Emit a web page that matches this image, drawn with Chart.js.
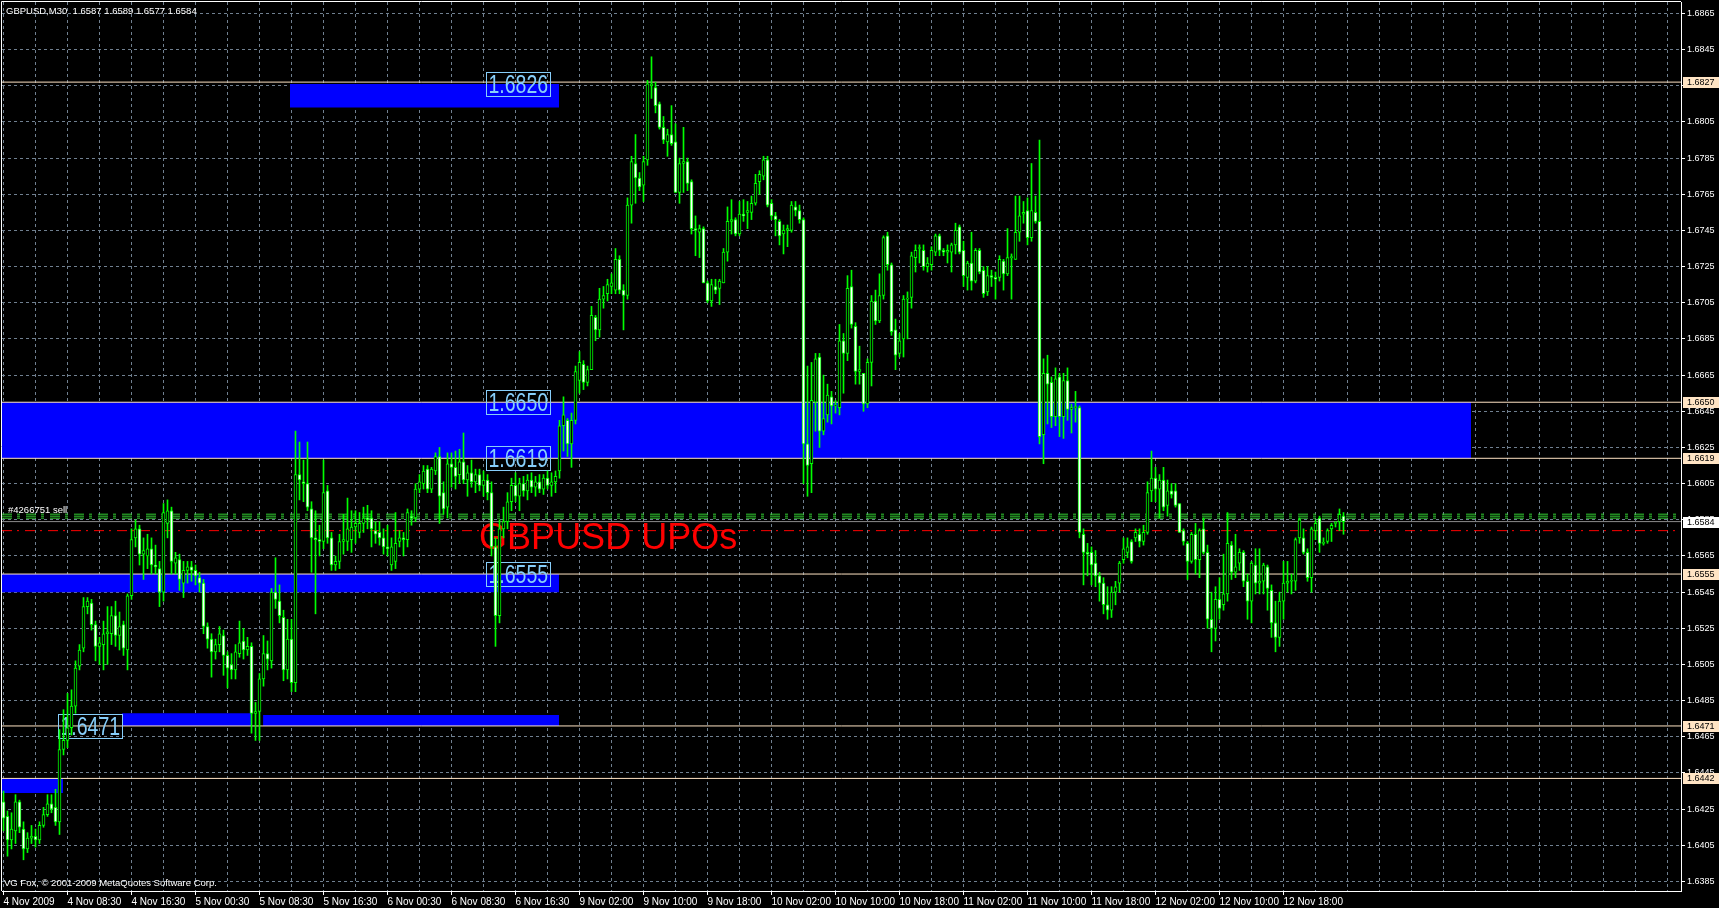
<!DOCTYPE html>
<html>
<head>
<meta charset="utf-8">
<script src="https://cdn.jsdelivr.net/npm/chart.js@4/dist/chart.umd.min.js"></script>
<style>
  html, body { margin: 0; padding: 0; background: #000; overflow: hidden; }
  canvas { display: block; background: #000; }
</style>
</head>
<body>
<canvas id="chart" width="1719" height="908"></canvas>
<script>
// GBPUSD M30, 4 Nov 2009 .. 13 Nov 2009, one entry per bar
const open = [
  1.6429,1.6421,1.6408,1.6413,1.6429,1.6414,1.6403,1.6409,1.6410,1.6408,
  1.6416,1.6422,1.6428,1.6426,1.6418,1.6458,1.6463,1.6470,1.6482,1.6504,
  1.6514,1.6537,1.6539,1.6527,1.6515,1.6516,1.6522,1.6522,1.6532,1.6521,
  1.6527,1.6513,1.6543,1.6575,1.6580,1.6566,1.6565,1.6569,1.6560,1.6558,
  1.6545,1.6583,1.6590,1.6561,1.6563,1.6550,1.6557,1.6559,1.6557,1.6553,
  1.6550,1.6526,1.6519,1.6512,1.6516,1.6521,1.6510,1.6505,1.6502,1.6511,
  1.6518,1.6513,1.6515,1.6478,1.6479,1.6497,1.6511,1.6507,1.6545,1.6540,
  1.6531,1.6502,1.6519,1.6495,1.6610,1.6606,1.6605,1.6591,1.6575,1.6574,
  1.6573,1.6601,1.6575,1.6560,1.6562,1.6573,1.6573,1.6574,1.6581,1.6578,
  1.6583,1.6586,1.6586,1.6579,1.6578,1.6575,1.6570,1.6560,1.6562,1.6573,
  1.6575,1.6574,1.6587,1.6586,1.6602,1.6605,1.6613,1.6602,1.6612,1.6620,
  1.6600,1.6592,1.6616,1.6614,1.6610,1.6617,1.6607,1.6611,1.6606,1.6610,
  1.6604,1.6607,1.6600,1.6570,1.6532,1.6580,1.6584,1.6595,1.6604,1.6598,
  1.6605,1.6601,1.6607,1.6603,1.6606,1.6602,1.6608,1.6604,1.6606,1.6612,
  1.6637,1.6640,1.6627,1.6640,1.6662,1.6671,1.6661,1.6668,1.6697,1.6690,
  1.6707,1.6710,1.6714,1.6712,1.6729,1.6712,1.6709,1.6759,1.6782,1.6774,
  1.6770,1.6784,1.6825,1.6824,1.6815,1.6802,1.6794,1.6798,1.6794,1.6766,
  1.6782,1.6783,1.6772,1.6746,1.6744,1.6746,1.6716,1.6706,1.6714,1.6713,
  1.6716,1.6733,1.6750,1.6751,1.6743,1.6754,1.6755,1.6755,1.6760,1.6772,
  1.6775,1.6784,1.6760,1.6753,1.6750,1.6743,1.6745,1.6745,1.6758,1.6756,
  1.6751,1.6627,1.6616,1.6650,1.6675,1.6634,1.6643,1.6653,1.6648,1.6647,
  1.6684,1.6677,1.6714,1.6692,1.6667,1.6666,1.6649,1.6672,1.6706,1.6695,
  1.6709,1.6742,1.6726,1.6690,1.6677,1.6685,1.6707,1.6708,1.6730,1.6735,
  1.6734,1.6725,1.6726,1.6733,1.6742,1.6734,1.6733,1.6733,1.6737,1.6747,
  1.6734,1.6719,1.6727,1.6717,1.6734,1.6723,1.6711,1.6720,1.6719,1.6719,
  1.6728,1.6721,1.6730,1.6729,1.6744,1.6754,1.6756,1.6741,1.6755,1.6750,
  1.6632,1.6666,1.6661,1.6642,1.6664,1.6642,1.6662,1.6646,1.6647,1.6647,
  1.6577,1.6567,1.6567,1.6561,1.6554,1.6550,1.6538,1.6535,1.6545,1.6550,
  1.6563,1.6567,1.6573,1.6575,1.6577,1.6573,1.6578,1.6601,1.6608,1.6602,
  1.6607,1.6593,1.6601,1.6601,1.6594,1.6579,1.6572,1.6562,1.6577,1.6563,
  1.6580,1.6567,1.6530,1.6525,1.6541,1.6538,1.6544,1.6571,1.6556,1.6561,
  1.6567,1.6551,1.6540,1.6560,1.6550,1.6551,1.6559,1.6546,1.6528,1.6520,
  1.6540,1.6550,1.6551,1.6551,1.6575,1.6575,1.6567,1.6553,1.6579,1.6586,
  1.6572,1.6573,1.6580,1.6583,1.6584,1.6587
];
const high = [
  1.6435,1.6424,1.6423,1.6433,1.6430,1.6418,1.6412,1.6416,1.6414,1.6418,
  1.6426,1.6433,1.6433,1.6436,1.6469,1.6480,1.6489,1.6491,1.6507,1.6516,
  1.6542,1.6542,1.6541,1.6529,1.6520,1.6529,1.6537,1.6537,1.6540,1.6534,
  1.6529,1.6544,1.6580,1.6585,1.6582,1.6575,1.6577,1.6575,1.6571,1.6562,
  1.6594,1.6596,1.6592,1.6567,1.6566,1.6562,1.6562,1.6562,1.6560,1.6556,
  1.6552,1.6528,1.6522,1.6519,1.6526,1.6524,1.6512,1.6511,1.6516,1.6529,
  1.6525,1.6520,1.6517,1.6484,1.6500,1.6521,1.6518,1.6547,1.6564,1.6549,
  1.6535,1.6530,1.6530,1.6634,1.6628,1.6618,1.6628,1.6595,1.6590,1.6582,
  1.6618,1.6604,1.6578,1.6565,1.6577,1.6588,1.6597,1.6590,1.6590,1.6589,
  1.6592,1.6593,1.6590,1.6584,1.6584,1.6580,1.6582,1.6575,1.6589,1.6579,
  1.6578,1.6591,1.6590,1.6605,1.6610,1.6615,1.6615,1.6614,1.6622,1.6625,
  1.6606,1.6622,1.6622,1.6623,1.6624,1.6633,1.6615,1.6618,1.6613,1.6613,
  1.6612,1.6610,1.6606,1.6575,1.6585,1.6592,1.6600,1.6608,1.6611,1.6608,
  1.6609,1.6610,1.6611,1.6609,1.6610,1.6610,1.6612,1.6611,1.6612,1.6640,
  1.6653,1.6641,1.6644,1.6670,1.6678,1.6673,1.6670,1.6703,1.6698,1.6713,
  1.6714,1.6718,1.6721,1.6735,1.6731,1.6715,1.6763,1.6786,1.6798,1.6777,
  1.6786,1.6828,1.6841,1.6827,1.6816,1.6808,1.6801,1.6814,1.6804,1.6785,
  1.6802,1.6785,1.6773,1.6753,1.6748,1.6747,1.6717,1.6718,1.6718,1.6718,
  1.6735,1.6758,1.6762,1.6752,1.6761,1.6762,1.6761,1.6764,1.6776,1.6778,
  1.6786,1.6786,1.6762,1.6755,1.6751,1.6748,1.6748,1.6761,1.6761,1.6759,
  1.6752,1.6670,1.6672,1.6677,1.6677,1.6665,1.6660,1.6656,1.6651,1.6693,
  1.6688,1.6720,1.6723,1.6694,1.6681,1.6666,1.6674,1.6709,1.6712,1.6721,
  1.6742,1.6744,1.6727,1.6696,1.6688,1.6709,1.6711,1.6733,1.6737,1.6737,
  1.6737,1.6730,1.6736,1.6743,1.6743,1.6735,1.6737,1.6738,1.6749,1.6748,
  1.6739,1.6728,1.6744,1.6735,1.6735,1.6725,1.6725,1.6723,1.6722,1.6731,
  1.6729,1.6746,1.6732,1.6764,1.6764,1.6761,1.6763,1.6782,1.6764,1.6795,
  1.6674,1.6676,1.6664,1.6669,1.6666,1.6666,1.6669,1.6649,1.6656,1.6648,
  1.6580,1.6572,1.6570,1.6568,1.6556,1.6553,1.6548,1.6548,1.6551,1.6562,
  1.6575,1.6575,1.6574,1.6580,1.6580,1.6582,1.6606,1.6623,1.6614,1.6610,
  1.6614,1.6607,1.6605,1.6605,1.6594,1.6580,1.6573,1.6578,1.6583,1.6580,
  1.6586,1.6571,1.6545,1.6548,1.6553,1.6566,1.6589,1.6573,1.6577,1.6569,
  1.6568,1.6555,1.6562,1.6569,1.6569,1.6561,1.6560,1.6549,1.6540,1.6545,
  1.6562,1.6562,1.6555,1.6575,1.6586,1.6580,1.6569,1.6581,1.6585,1.6587,
  1.6575,1.6580,1.6583,1.6584,1.6591,1.6589
];
const low = [
  1.6413,1.6399,1.6403,1.6406,1.6412,1.6397,1.6401,1.6406,1.6404,1.6406,
  1.6415,1.6421,1.6423,1.6416,1.6411,1.6455,1.6459,1.6466,1.6478,1.6502,
  1.6512,1.6533,1.6524,1.6507,1.6505,1.6502,1.6505,1.6516,1.6515,1.6513,
  1.6510,1.6502,1.6541,1.6570,1.6560,1.6552,1.6558,1.6555,1.6555,1.6537,
  1.6540,1.6575,1.6555,1.6555,1.6546,1.6542,1.6550,1.6551,1.6549,1.6545,
  1.6522,1.6514,1.6498,1.6508,1.6512,1.6499,1.6492,1.6497,1.6497,1.6509,
  1.6508,1.6510,1.6467,1.6463,1.6463,1.6493,1.6502,1.6503,1.6536,1.6528,
  1.6496,1.6497,1.6490,1.6490,1.6596,1.6595,1.6590,1.6556,1.6533,1.6565,
  1.6569,1.6572,1.6557,1.6557,1.6558,1.6566,1.6568,1.6567,1.6572,1.6575,
  1.6578,1.6580,1.6570,1.6572,1.6571,1.6566,1.6565,1.6557,1.6558,1.6570,
  1.6565,1.6570,1.6582,1.6584,1.6600,1.6602,1.6600,1.6600,1.6610,1.6583,
  1.6588,1.6586,1.6603,1.6602,1.6605,1.6605,1.6598,1.6603,1.6600,1.6601,
  1.6598,1.6596,1.6565,1.6515,1.6528,1.6575,1.6580,1.6590,1.6595,1.6590,
  1.6598,1.6596,1.6600,1.6598,1.6600,1.6599,1.6602,1.6598,1.6600,1.6608,
  1.6623,1.6620,1.6614,1.6638,1.6655,1.6657,1.6659,1.6668,1.6684,1.6686,
  1.6702,1.6706,1.6710,1.6710,1.6710,1.6690,1.6707,1.6749,1.6760,1.6767,
  1.6761,1.6781,1.6818,1.6810,1.6801,1.6793,1.6786,1.6792,1.6766,1.6760,
  1.6766,1.6767,1.6743,1.6731,1.6730,1.6716,1.6705,1.6703,1.6710,1.6704,
  1.6716,1.6728,1.6743,1.6742,1.6742,1.6750,1.6746,1.6751,1.6759,1.6765,
  1.6773,1.6758,1.6751,1.6742,1.6737,1.6732,1.6736,1.6744,1.6753,1.6749,
  1.6605,1.6598,1.6600,1.6634,1.6625,1.6632,1.6639,1.6638,1.6644,1.6643,
  1.6655,1.6673,1.6691,1.6660,1.6660,1.6645,1.6647,1.6659,1.6693,1.6694,
  1.6707,1.6723,1.6687,1.6668,1.6675,1.6675,1.6685,1.6702,1.6722,1.6727,
  1.6723,1.6722,1.6723,1.6731,1.6731,1.6731,1.6727,1.6722,1.6732,1.6732,
  1.6714,1.6712,1.6712,1.6716,1.6721,1.6708,1.6709,1.6714,1.6707,1.6717,
  1.6712,1.6720,1.6707,1.6729,1.6739,1.6749,1.6737,1.6739,1.6749,1.6627,
  1.6616,1.6638,1.6636,1.6637,1.6631,1.6630,1.6640,1.6633,1.6639,1.6575,
  1.6549,1.6554,1.6549,1.6548,1.6540,1.6533,1.6530,1.6531,1.6538,1.6545,
  1.6561,1.6564,1.6561,1.6573,1.6570,1.6571,1.6577,1.6595,1.6595,1.6586,
  1.6590,1.6587,1.6597,1.6592,1.6578,1.6571,1.6552,1.6561,1.6555,1.6553,
  1.6566,1.6525,1.6512,1.6518,1.6530,1.6535,1.6540,1.6552,1.6553,1.6557,
  1.6548,1.6530,1.6528,1.6544,1.6544,1.6544,1.6535,1.6520,1.6512,1.6515,
  1.6530,1.6545,1.6544,1.6546,1.6572,1.6566,1.6551,1.6545,1.6574,1.6567,
  1.6571,1.6572,1.6573,1.6581,1.6579,1.6577
];
const close = [
  1.6420,1.6408,1.6414,1.6429,1.6415,1.6403,1.6409,1.6410,1.6408,1.6416,
  1.6422,1.6428,1.6425,1.6418,1.6458,1.6463,1.6470,1.6482,1.6503,1.6513,
  1.6537,1.6540,1.6527,1.6515,1.6517,1.6522,1.6523,1.6532,1.6521,1.6526,
  1.6514,1.6543,1.6574,1.6580,1.6566,1.6568,1.6569,1.6560,1.6559,1.6545,
  1.6589,1.6590,1.6562,1.6564,1.6552,1.6557,1.6559,1.6557,1.6554,1.6550,
  1.6526,1.6519,1.6512,1.6516,1.6522,1.6510,1.6503,1.6502,1.6512,1.6517,
  1.6513,1.6515,1.6478,1.6479,1.6497,1.6511,1.6508,1.6545,1.6541,1.6532,
  1.6502,1.6519,1.6495,1.6610,1.6607,1.6605,1.6592,1.6575,1.6574,1.6573,
  1.6600,1.6575,1.6560,1.6562,1.6573,1.6574,1.6580,1.6581,1.6583,1.6583,
  1.6586,1.6585,1.6580,1.6577,1.6575,1.6570,1.6569,1.6570,1.6572,1.6575,
  1.6574,1.6589,1.6586,1.6602,1.6606,1.6612,1.6602,1.6613,1.6620,1.6598,
  1.6591,1.6616,1.6614,1.6609,1.6617,1.6607,1.6611,1.6606,1.6610,1.6604,
  1.6607,1.6600,1.6570,1.6532,1.6580,1.6584,1.6595,1.6604,1.6598,1.6605,
  1.6601,1.6607,1.6603,1.6606,1.6602,1.6608,1.6604,1.6606,1.6609,1.6637,
  1.6643,1.6627,1.6640,1.6667,1.6672,1.6661,1.6668,1.6698,1.6690,1.6707,
  1.6709,1.6715,1.6716,1.6729,1.6712,1.6709,1.6759,1.6783,1.6774,1.6769,
  1.6783,1.6826,1.6826,1.6814,1.6802,1.6795,1.6798,1.6793,1.6766,1.6782,
  1.6783,1.6771,1.6746,1.6745,1.6746,1.6716,1.6706,1.6715,1.6712,1.6717,
  1.6733,1.6750,1.6751,1.6743,1.6754,1.6753,1.6756,1.6760,1.6771,1.6776,
  1.6784,1.6759,1.6753,1.6751,1.6742,1.6745,1.6746,1.6759,1.6756,1.6751,
  1.6627,1.6615,1.6651,1.6674,1.6634,1.6641,1.6654,1.6648,1.6648,1.6684,
  1.6677,1.6713,1.6693,1.6667,1.6668,1.6649,1.6672,1.6706,1.6695,1.6709,
  1.6741,1.6726,1.6689,1.6676,1.6684,1.6707,1.6707,1.6731,1.6734,1.6735,
  1.6725,1.6727,1.6734,1.6742,1.6734,1.6733,1.6734,1.6737,1.6745,1.6733,
  1.6720,1.6727,1.6717,1.6734,1.6722,1.6710,1.6720,1.6719,1.6718,1.6729,
  1.6721,1.6730,1.6730,1.6744,1.6753,1.6755,1.6741,1.6756,1.6750,1.6631,
  1.6666,1.6660,1.6642,1.6663,1.6642,1.6662,1.6646,1.6647,1.6647,1.6578,
  1.6567,1.6566,1.6560,1.6554,1.6550,1.6538,1.6535,1.6545,1.6548,1.6561,
  1.6569,1.6570,1.6562,1.6578,1.6573,1.6578,1.6600,1.6608,1.6602,1.6607,
  1.6592,1.6601,1.6599,1.6593,1.6578,1.6573,1.6562,1.6577,1.6563,1.6579,
  1.6567,1.6530,1.6525,1.6541,1.6536,1.6544,1.6572,1.6556,1.6559,1.6567,
  1.6551,1.6540,1.6561,1.6550,1.6551,1.6560,1.6547,1.6528,1.6520,1.6540,
  1.6550,1.6551,1.6551,1.6574,1.6585,1.6567,1.6553,1.6580,1.6583,1.6572,
  1.6572,1.6579,1.6582,1.6583,1.6588,1.6584
];

// time axis labels, one every 16 bars starting at bar 0
const timeLabels = [
  "4 Nov 2009", "4 Nov 08:30", "4 Nov 16:30", "5 Nov 00:30", "5 Nov 08:30",
  "5 Nov 16:30", "6 Nov 00:30", "6 Nov 08:30", "6 Nov 16:30", "9 Nov 02:00",
  "9 Nov 10:00", "9 Nov 18:00", "10 Nov 02:00", "10 Nov 10:00", "10 Nov 18:00",
  "11 Nov 02:00", "11 Nov 10:00", "11 Nov 18:00", "12 Nov 02:00", "12 Nov 10:00",
  "12 Nov 18:00"
];
const priceTicks = [
  1.6385, 1.6405, 1.6425, 1.6445, 1.6465, 1.6485, 1.6505, 1.6525, 1.6545,
  1.6565, 1.6585, 1.6605, 1.6625, 1.6645, 1.6665, 1.6685, 1.6705, 1.6725,
  1.6745, 1.6765, 1.6785, 1.6805, 1.6825, 1.6845, 1.6865
];

// horizontal levels and the blue zones
const levelLines = [1.6827, 1.6650, 1.6619, 1.6555, 1.6471, 1.6442];
const zoneTop    = [1.6826, 1.6650, 1.6555, 1.6478, 1.6477, 1.6442];
const zoneBottom = [1.6813, 1.6619, 1.6545, 1.6471, 1.6471, 1.6434];
const zoneFrom   = [71.6, -0.4, -0.4, 29.6, 64.9, -0.4];
const zoneTo     = [138.9, 366.9, 138.9, 61.9, 138.9, 14.9];

const levelText      = ["1.6826", "1.6650", "1.6619", "1.6555", "1.6471"];
const levelTextPrice = [1.6826, 1.6650, 1.6619, 1.6555, 1.6471];
const levelTextBar   = [120.6, 120.6, 120.6, 120.6, 13.6];

const bidPrice = 1.6584;
const orderPrice = 1.6587;
const redLinePrice = 1.6579;
const orderLabel = "#4266751 sell";
const noteText = "GBPUSD UPOs";
const noteBar = 118.9, notePrice = 1.6569;
const titleText = "GBPUSD,M30  1.6587 1.6589 1.6577 1.6584";
const footerText = "VG Fox, \u00A9 2001-2009 MetaQuotes Software Corp.";

const X_MIN = -0.375, X_MAX = 419.375;
const Y_MIN = 1.637975, Y_MAX = 1.68713;

Chart.defaults.font.family = '"Liberation Sans", Arial, sans-serif';

const bars = close.map((c, i) => i);
const gridBars = [];
for (let v = 0; v <= 416; v += 8) gridBars.push(v);

function hline(price, color, dash, order) {
  return {
    type: "line",
    data: [{ x: X_MIN, y: price }, { x: X_MAX, y: price }],
    borderColor: color,
    borderWidth: 1,
    borderDash: dash,
    pointRadius: 0,
    fill: false,
    order: order,
  };
}

let datasets = [];

for (let k = 0; k < zoneTop.length; k++) {
  datasets.push({
    type: "line",
    data: [{ x: zoneFrom[k], y: zoneTop[k] }, { x: zoneTo[k], y: zoneTop[k] }],
    borderColor: "rgba(0,0,0,0)",
    borderWidth: 0,
    pointRadius: 0,
    backgroundColor: "#0000FF",
    fill: "+1",
    order: 10,
  });
  datasets.push({
    type: "line",
    data: [{ x: zoneFrom[k], y: zoneBottom[k] }, { x: zoneTo[k], y: zoneBottom[k] }],
    borderColor: "rgba(0,0,0,0)",
    borderWidth: 0,
    pointRadius: 0,
    fill: false,
    order: 10,
  });
}

for (let i = 0; i < levelLines.length; i++) {
  datasets.push(hline(levelLines[i], "#FFE4C4", [], 6));
}
datasets.push(hline(bidPrice, "#8C8C8C", [], 5));
datasets.push(hline(redLinePrice, "#FF0000", [10, 5, 2, 6], 5));
// order line looks like three thin dash-dot rows
datasets.push(hline(orderPrice + 0.00011, "#32CD32", [10, 5, 3, 6], 5));
datasets.push(hline(orderPrice, "#32CD32", [10, 5, 3, 6], 5));
datasets.push(hline(orderPrice - 0.00011, "#32CD32", [10, 5, 3, 6], 5));

datasets.push({
  type: "bar",
  label: "wicks",
  data: bars.map((i) => ({ x: i, y: [low[i], high[i]] })),
  backgroundColor: "#00FF00",
  borderWidth: 0,
  barThickness: 1,
  minBarLength: 1,
  grouped: false,
  order: 2,
});
datasets.push({
  type: "bar",
  label: "bodies",
  data: bars.map((i) => ({ x: i, y: [open[i], close[i]] })),
  backgroundColor: bars.map((i) => (close[i] >= open[i] ? "#000000" : "#FFFFFF")),
  borderColor: "#00FF00",
  borderWidth: 1,
  borderSkipped: false,
  barThickness: 3,
  minBarLength: 1,
  grouped: false,
  order: 1,
});

const overlay = {
  id: "overlay",
  beforeDatasetDraw(chart, args) {
    if (chart.data.datasets[args.index].label !== "wicks") return;
    const { ctx, scales: { x, y } } = chart;
    ctx.save();
    // price text boxes
    for (let k = 0; k < levelText.length; k++) {
      const px = Math.round(x.getPixelForValue(levelTextBar[k])) + 0.5;
      const py = Math.round(y.getPixelForValue(levelTextPrice[k]));
      ctx.strokeStyle = "#87CEFA";
      ctx.lineWidth = 1;
      ctx.strokeRect(px, py - 12 + 0.5, 64, 24);
      ctx.save();
      ctx.translate(px + 2, py + 9);
      ctx.scale(0.78, 1);
      ctx.font = '25px "Liberation Sans", Arial, sans-serif';
      ctx.fillStyle = "#87CEFA";
      ctx.textBaseline = "alphabetic";
      ctx.fillText(levelText[k], 0, 0);
      ctx.restore();
    }
    // red note
    ctx.font = '36px "Liberation Sans", Arial, sans-serif';
    ctx.fillStyle = "#FF0000";
    ctx.textBaseline = "alphabetic";
    ctx.fillText(noteText, x.getPixelForValue(noteBar), y.getPixelForValue(notePrice));
    ctx.restore();
  },
  afterDraw(chart) {
    const { ctx, chartArea: a, scales: { y } } = chart;
    ctx.save();
    // top and left frame
    ctx.strokeStyle = "#FFFFFF";
    ctx.lineWidth = 1;
    ctx.beginPath();
    ctx.moveTo(a.left - 0.5, a.bottom);
    ctx.lineTo(a.left - 0.5, a.top - 0.5);
    ctx.lineTo(a.right, a.top - 0.5);
    ctx.stroke();

    ctx.fillStyle = "#FFFFFF";
    ctx.textBaseline = "alphabetic";
    ctx.font = '9.5px "Liberation Sans", Arial, sans-serif';
    ctx.fillText(titleText, 6, 14);
    ctx.fillText(footerText, 4, 886);
    ctx.fillText(orderLabel, 8, Math.round(y.getPixelForValue(orderPrice)) - 3);

    // price tags on the axis
    ctx.font = '9px "Liberation Sans", Arial, sans-serif';
    ctx.textBaseline = "middle";
    const tags = levelLines.concat([bidPrice]);
    for (let k = 0; k < tags.length; k++) {
      const py = Math.round(y.getPixelForValue(tags[k]));
      ctx.fillStyle = tags[k] === bidPrice ? "#FFFFFF" : "#FFE4C4";
      ctx.fillRect(a.right + 2, py - 5, 36, 11);
      ctx.fillStyle = "#000000";
      ctx.fillText(tags[k].toFixed(4), a.right + 6, py + 0.5);
    }
    ctx.restore();
  },
};

new Chart(document.getElementById("chart"), {
  type: "bar",
  data: { datasets: datasets },
  plugins: [overlay],
  options: {
    responsive: false,
    animation: false,
    devicePixelRatio: 1,
    layout: { padding: { left: 2, top: 2, right: 0, bottom: 0 } },
    plugins: {
      legend: { display: false },
      tooltip: { enabled: false },
    },
    scales: {
      x: {
        type: "linear",
        min: X_MIN,
        max: X_MAX,
        offset: false,
        z: 1,
        grid: {
          color: "#708090",
          lineWidth: 1,
          offset: false,
          tickLength: 4,
          tickColor: (c) =>
            c.tick && c.tick.value % 16 === 0 && c.tick.value / 16 < timeLabels.length
              ? "#FFFFFF"
              : "rgba(0,0,0,0)",
        },
        border: { display: true, color: "#FFFFFF", width: 1, dash: [3, 3] },
        ticks: {
          color: "#FFFFFF",
          font: { size: 10 },
          autoSkip: false,
          maxRotation: 0,
          minRotation: 0,
          align: "start",
          padding: 1,
          callback: (v) => (v % 16 === 0 && timeLabels[v / 16] ? timeLabels[v / 16] : ""),
        },
        afterBuildTicks: (s) => {
          s.ticks = gridBars.map((v) => ({ value: v }));
        },
        afterFit: (s) => {
          s.height = 17;
          s.paddingLeft = 0;
          s.paddingRight = 0;
        },
      },
      y: {
        type: "linear",
        position: "right",
        min: Y_MIN,
        max: Y_MAX,
        z: 1,
        grid: {
          color: "#708090",
          lineWidth: 1,
          tickLength: 4,
          tickColor: "#FFFFFF",
        },
        border: { display: true, color: "#FFFFFF", width: 1, dash: [3, 3] },
        ticks: {
          color: "#FFFFFF",
          font: { size: 9 },
          autoSkip: false,
          padding: 2,
          callback: (v) => Number(v).toFixed(4),
        },
        afterBuildTicks: (s) => {
          s.ticks = priceTicks.map((v) => ({ value: v }));
        },
        afterFit: (s) => {
          s.width = 38;
          s.paddingTop = 0;
          s.paddingBottom = 0;
        },
      },
    },
  },
});
</script>
</body>
</html>
